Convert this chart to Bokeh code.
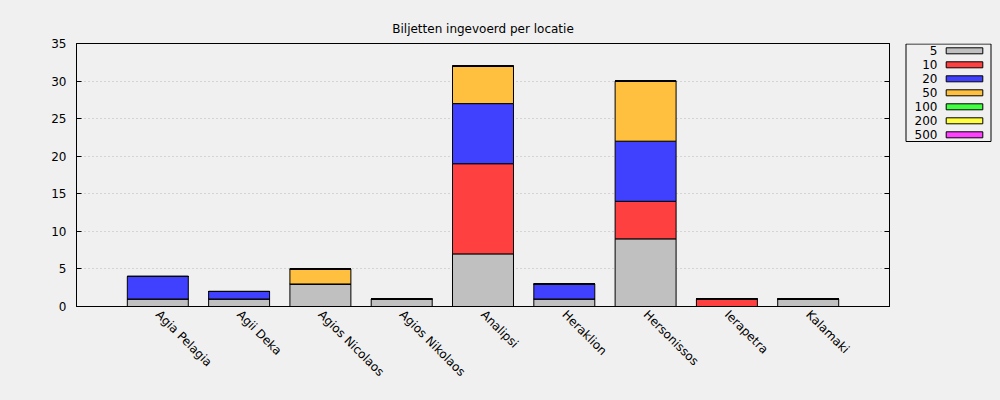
import math
from bokeh.plotting import figure
from bokeh.models import ColumnDataSource, FactorRange, LinearAxis, Range1d, FixedTicker
from bokeh.layouts import row
from bokeh.embed import file_html
from bokeh.resources import INLINE
from bokeh.core.properties import value

# ---------------- data ----------------
title_text = "Biljetten ingevoerd per locatie"
locations = ["Agia Pelagia", "Agii Deka", "Agios Nicolaos", "Agios Nikolaos",
             "Analipsi", "Heraklion", "Hersonissos", "Ierapetra", "Kalamaki"]
denominations = ["5", "10", "20", "50", "100", "200", "500"]
v5 = [1, 1, 3, 1, 7, 1, 9, 0, 1]
v10 = [0, 0, 0, 0, 12, 0, 5, 1, 0]
v20 = [3, 1, 0, 0, 8, 2, 8, 0, 0]
v50 = [0, 0, 2, 0, 5, 0, 8, 0, 0]
v100 = [0, 0, 0, 0, 0, 0, 0, 0, 0]
v200 = [0, 0, 0, 0, 0, 0, 0, 0, 0]
v500 = [0, 0, 0, 0, 0, 0, 0, 0, 0]
colors = ["#c0c0c0", "#ff4040", "#4040ff", "#ffc040", "#40ff40", "#ffff40", "#ff40ff"]
y_ticks = [0, 5, 10, 15, 20, 25, 30, 35]

FONT = "DejaVu Sans"
FS = "12px"
BG = "#f0f0f0"

H = 396
TOP = 43
BOTTOM = H - 306

source = ColumnDataSource(data={
    "loc": locations,
    "5": v5, "10": v10, "20": v20, "50": v50,
    "100": v100, "200": v200, "500": v500,
})

x_range = FactorRange(factors=locations, range_padding=0.5, range_padding_units="absolute")

p = figure(width=897, height=H, x_range=x_range, y_range=Range1d(0, 35),
           toolbar_location=None, output_backend="svg",
           min_border_left=76, min_border_right=8, min_border_top=TOP, min_border_bottom=BOTTOM,
           background_fill_color=BG, border_fill_color=BG)

p.vbar_stack(denominations, x="loc", width=0.75, color=colors, line_color="black",
             line_width=1, source=source)

p.outline_line_color = "black"
p.outline_line_width = 1

p.title.text = title_text
p.title.align = "center"
p.title.text_font = FONT
p.title.text_font_size = FS
p.title.text_font_style = "normal"
p.title.text_color = "black"
p.title.standoff = 16

# y axis
ya = p.yaxis[0]
ya.ticker = FixedTicker(ticks=y_ticks)
ya.major_tick_in = 5
ya.major_tick_out = 0
ya.minor_tick_in = 0
ya.minor_tick_out = 0
ya.major_label_standoff = 10
ya.major_label_text_font = FONT
ya.major_label_text_font_size = FS
ya.major_label_text_color = "black"
ya.axis_line_color = "black"

ra = LinearAxis(ticker=FixedTicker(ticks=y_ticks))
ra.major_tick_in = 5
ra.major_tick_out = 0
ra.minor_tick_in = 0
ra.minor_tick_out = 0
ra.major_label_text_font_size = "1px"
ra.major_label_text_color = None
ra.major_label_standoff = 0
ra.axis_line_color = "black"
p.add_layout(ra, "right")

xa = p.xaxis[0]
xa.major_label_orientation = -math.pi / 4
xa.major_tick_in = 0
xa.major_tick_out = 0
xa.major_label_standoff = 6
xa.major_label_text_font = FONT
xa.major_label_text_font_size = FS
xa.major_label_text_color = "black"
xa.axis_line_color = "black"

p.xgrid.grid_line_color = None
p.ygrid.grid_line_color = "#b8b8b8"
p.ygrid.grid_line_dash = "1 3"
p.ygrid.grid_line_width = 1

# ---------------- legend panel (page pixel coordinates) ----------------
LX0, LW = 897, 99
lg = figure(width=LW, height=H, x_range=Range1d(LX0, LX0 + LW), y_range=Range1d(306, TOP),
            toolbar_location=None, output_backend="svg",
            x_axis_location=None, y_axis_location=None,
            min_border_left=0, min_border_right=0, min_border_top=TOP, min_border_bottom=BOTTOM,
            background_fill_color=BG, border_fill_color=BG)
lg.grid.visible = False
lg.outline_line_color = None

n = len(denominations)
row_y = [50.3 + 14 * i for i in range(n)]
lg.quad(left=905.5, right=990.5, top=43.5, bottom=141, fill_color=None, line_color="black", line_width=1)
lg.text(x=[937] * n, y=row_y, text=denominations,
        text_align="right", text_baseline="middle",
        text_font=value(FONT), text_font_size=FS, text_color="black")
lg.rect(x=[964] * n, y=row_y, width=36.6, height=6,
        fill_color=colors, line_color="black", line_width=1)

layout = row(p, lg, spacing=0)

template = """
{% block postamble %}
<style>html, body { background: #f0f0f0; margin: 0; padding: 0; }</style>
{% endblock %}
"""

open("out.html", "w").write(file_html(layout, INLINE, title="chart", template=template))
